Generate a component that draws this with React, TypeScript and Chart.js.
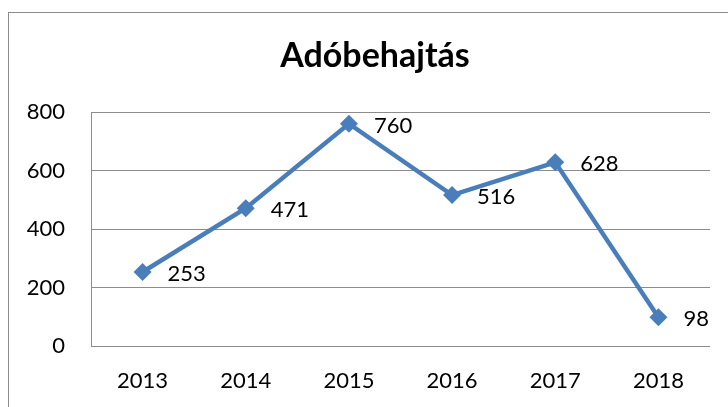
import React, { useEffect, useRef } from "react";
import { Chart, registerables } from "chart.js";

Chart.register(...registerables);

const categories = ["2013", "2014", "2015", "2016", "2017", "2018"];
const values = [253, 471, 760, 516, 628, 98];
const titleText = "Adóbehajtás";
const yMin = 0;
const yMax = 800;
const yStep = 200;

const FONT = "Lato, 'Noto Sans', sans-serif";
const BLUE = "#4a7ebb";
const GRID = "#8c8c8c";

const titlePlugin = {
  id: "customTitle",
  afterDraw(chart: any) {
    const ctx = chart.ctx;
    ctx.save();
    ctx.font = `bold 34px ${FONT}`;
    ctx.fillStyle = "#000";
    ctx.textAlign = "center";
    ctx.textBaseline = "alphabetic";
    ctx.fillText(titleText, 375, 67);
    ctx.restore();
  },
};

const dataLabelPlugin = {
  id: "dataLabels",
  afterDatasetsDraw(chart: any) {
    const ctx = chart.ctx;
    const meta = chart.getDatasetMeta(0);
    ctx.save();
    ctx.font = `22px ${FONT}`;
    ctx.fillStyle = "#000";
    ctx.textAlign = "left";
    ctx.textBaseline = "middle";
    meta.data.forEach((pt: any, i: number) => {
      ctx.fillText(String(values[i]), pt.x + 25, pt.y + 2);
    });
    ctx.restore();
  },
};

export default function App() {
  const ref = useRef<HTMLCanvasElement>(null);
  useEffect(() => {
    if (!ref.current) return;
    const chart = new Chart(ref.current, {
      type: "line",
      data: {
        labels: categories,
        datasets: [
          {
            data: values,
            borderColor: BLUE,
            backgroundColor: BLUE,
            borderWidth: 4.5,
            pointStyle: "rectRot",
            pointRadius: 9,
            pointBorderWidth: 0,
            pointBackgroundColor: BLUE,
            tension: 0,
          },
        ],
      },
      options: {
        animation: false,
        responsive: false,
        maintainAspectRatio: false,
        layout: { padding: { left: 0, right: 18, top: 112, bottom: 0 } },
        plugins: {
          legend: { display: false },
          tooltip: { enabled: false },
          title: { display: false },
        },
        scales: {
          x: {
            offset: true,
            grid: { display: false, drawTicks: false },
            border: { display: false },
            ticks: {
              color: "#000",
              font: { family: FONT, size: 22 },
              padding: 22,
              maxRotation: 0,
            },
            afterFit(scale: any) {
              scale.height = 61;
            },
          },
          y: {
            min: yMin,
            max: yMax,
            grid: { color: GRID, lineWidth: 1, drawTicks: false },
            border: { display: true, color: GRID, width: 1 },
            ticks: {
              stepSize: yStep,
              color: "#000",
              font: { family: FONT, size: 22 },
              padding: 26,
            },
            afterFit(scale: any) {
              scale.width = 91;
            },
          },
        },
      },
      plugins: [titlePlugin, dataLabelPlugin],
    });
    return () => chart.destroy();
  }, []);

  return (
    <div style={{ position: "fixed", left: 0, top: 0, width: 728, height: 407, background: "#fff", overflow: "hidden" }}>
      <div
        style={{
          position: "absolute",
          left: 8,
          top: 12,
          width: 740,
          height: 420,
          border: `1px solid ${GRID}`,
          boxSizing: "border-box",
        }}
      />
      <canvas ref={ref} width={728} height={407} style={{ position: "absolute", left: 0, top: 0 }} />
    </div>
  );
}
